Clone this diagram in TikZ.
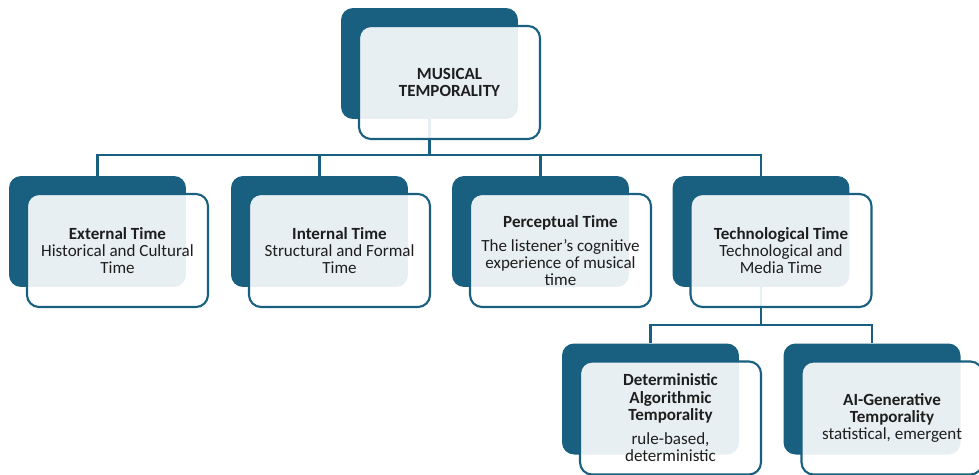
\documentclass[tikz,border=0pt]{standalone}
\usepackage{fontspec}
\setmainfont{Carlito}
\usetikzlibrary{positioning, calc, backgrounds}
\definecolor{tempoblue}{RGB}{24, 95, 128}
\definecolor{inktext}{RGB}{30, 30, 30}

\tikzset{
  backbox/.style={fill=tempoblue, rounded corners=0.24cm, minimum width=3.54cm,
    minimum height=2.22cm, inner sep=0pt},
  frontbox/.style={draw=tempoblue, line width=1.2pt, fill=white, fill opacity=0.9,
    text opacity=1, rounded corners=0.24cm, minimum width=3.62cm, minimum height=2.26cm,
    align=center, text=inktext, inner sep=2pt, font=\fontsize{9.7}{9.8}\selectfont},
  link/.style={draw=tempoblue, line width=1.2pt},
}
% back card + front card with the text
\newcommand{\tempocard}[4]{%
  \node[backbox] (#1) at (#2,#3) {};
  \node[frontbox] (#1-f) at ([shift={(0.40cm,-0.38cm)}]#1.center) {#4};
}

\begin{document}
\begin{tikzpicture}[x=0.02cm, y=-0.02cm]
  \useasboundingbox (0,0) rectangle (979,474);
  \clip (0,0) rectangle (979,474);

  \tempocard{top}{429.5}{63.5}{\textbf{MUSICAL}\\\textbf{TEMPORALITY}}

  \tempocard{ext}{97.5}{231.5}{\textbf{External Time}\\Historical and Cultural\\Time}
  \tempocard{int}{319.5}{231.5}{\textbf{Internal Time}\\Structural and Formal\\Time}
  \tempocard{perc}{540.5}{231.5}{\textbf{Perceptual Time}\\[4pt]The listener’s cognitive\\experience of musical\\time}
  \tempocard{tech}{761}{231.5}{\textbf{Technological Time}\\Technological and\\Media Time}

  \tempocard{det}{650.5}{399}{\textbf{Deterministic}\\\textbf{Algorithmic}\\\textbf{Temporality}\\[4pt]rule-based,\\deterministic}
  \tempocard{aigen}{872}{399}{\textbf{AI-Generative}\\\textbf{Temporality}\\statistical, emergent}

  % connectors
  \begin{scope}[on background layer]
    \coordinate (bar1) at (429.5,155);
    \draw[link] (top.south) -- (bar1);
    \foreach \c in {ext,int,perc,tech} \draw[link] (bar1) -| (\c.north);
    \coordinate (bar2) at (761,325);
    \draw[link] (tech.south) -- (bar2);
    \foreach \c in {det,aigen} \draw[link] (bar2) -| (\c.north);
  \end{scope}
\end{tikzpicture}
\end{document}
